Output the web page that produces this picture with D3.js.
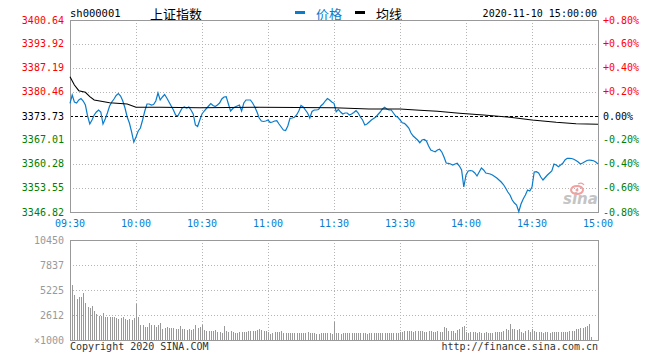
<!DOCTYPE html>
<html><head><meta charset="utf-8">
<script src="https://cdn.jsdelivr.net/npm/d3@7"></script>
<style>
html,body{margin:0;padding:0;background:#fff;}
svg{display:block;}
.mono{font-family:"DejaVu Sans Mono","Liberation Mono",monospace;font-size:10px;}
</style></head>
<body>
<svg id="c" width="660" height="360"></svg>
<script>
// ---- data ----
const symbol = "sh000001";
const indexName = "上证指数";
const dateTime = "2020-11-10 15:00:00";
const legendNames = ["价格", "均线"];
const timeLabels = ["09:30","10:00","10:30","11:00","11:30","13:30","14:00","14:30","15:00"];
const timeTickIdx = [0,30,60,90,120,150,180,210,240];
const priceTicks = [3400.64,3393.92,3387.19,3380.46,3373.73,3367.01,3360.28,3353.55,3346.82];
const pctTicks = ["+0.80%","+0.60%","+0.40%","+0.20%","0.00%","-0.20%","-0.40%","-0.60%","-0.80%"];
const prevClose = 3373.73;
const volTickLabels = ["10450","7837","5225","2612","×1000"];
const volTickValues = [10450,7837,5225,2612,0];
const price = [
3377.29,3379.62,3377.65,3377.37,3378.21,3378.64,3377.93,3376.81,3373.73,3371.49,
3372.61,3374.01,3374.85,3375.41,3374.85,3371.49,3372.89,3374.57,3376.53,3377.65,
3378.50,3379.48,3380.04,3379.34,3377.93,3375.97,3373.45,3371.77,3369.25,3366.44,
3367.84,3369.53,3370.37,3372.61,3375.13,3377.09,3377.09,3376.81,3376.95,3377.93,
3380.18,3378.21,3379.06,3379.76,3378.78,3377.65,3376.53,3375.41,3374.01,3373.73,
3374.85,3375.97,3376.25,3375.97,3376.25,3375.41,3374.29,3371.21,3370.79,3372.61,
3374.29,3375.13,3375.83,3376.53,3377.23,3376.67,3376.39,3376.81,3377.37,3378.50,
3379.06,3379.14,3377.09,3375.13,3375.83,3376.25,3376.53,3376.81,3375.13,3377.37,
3378.21,3378.21,3378.21,3377.37,3376.25,3374.85,3373.17,3372.33,3372.19,3372.33,
3372.61,3371.91,3372.05,3372.33,3372.41,3371.49,3370.65,3369.81,3369.67,3370.93,
3373.09,3373.17,3373.37,3374.01,3375.13,3376.67,3376.25,3375.41,3374.57,3373.17,
3374.99,3375.41,3375.41,3375.55,3376.53,3377.09,3377.93,3378.64,3378.21,3377.65,
3377.29,3374.94,3375.61,3374.85,3374.29,3374.57,3374.57,3374.01,3374.29,3374.71,
3375.22,3374.57,3373.45,3372.61,3371.21,3371.49,3372.05,3372.61,3373.03,3373.45,
3374.15,3374.85,3375.69,3376.17,3375.69,3375.41,3375.41,3374.57,3373.73,3373.37,
3372.61,3371.85,3371.68,3371.07,3370.37,3368.96,3368.12,3367.56,3367.00,3366.25,
3367.00,3367.14,3366.72,3365.32,3364.20,3363.92,3363.72,3364.20,3364.40,3363.64,
3362.24,3360.56,3360.47,3360.28,3360.00,3360.28,3360.47,3359.71,3358.59,3353.83,
3357.19,3358.31,3358.45,3358.31,3357.75,3356.91,3358.03,3359.15,3358.59,3357.75,
3357.61,3357.47,3357.19,3356.77,3356.35,3355.79,3355.23,3354.53,3353.55,3352.43,
3351.59,3350.18,3349.34,3348.78,3346.91,3349.06,3350.47,3351.59,3352.99,3352.71,
3353.83,3358.03,3358.12,3357.75,3356.63,3355.79,3356.49,3357.19,3357.75,3358.31,
3360.28,3360.00,3359.52,3360.00,3360.47,3361.40,3361.87,3361.87,3361.82,3361.59,
3361.26,3360.84,3360.28,3360.56,3360.92,3361.26,3361.40,3361.31,3361.20,3360.84,
3360.28];
const avgIdx = [0,2,4,7,9,11,18,26,30,41,59,86,120,136,150,159,167,177,188,200,210,221,230,240];
const avgPrice = [3384.75,3382.42,3380.82,3380.37,3379.14,3378.21,3377.46,3377.09,3376.17,3376.17,3376.06,3376.17,3376.06,3375.69,3375.69,3375.33,3375.05,3374.49,3374.01,3373.37,3372.61,3371.96,3371.57,3371.40];
const volume = [
10450,5748,4703,4285,4494,4494,4912,3867,3449,3380,
3553,3031,2752,2508,2508,2822,2369,2369,2369,2438,
2369,2264,2160,2264,2369,2160,2090,2160,2090,2299,
3762,2369,1568,1568,1393,1324,1811,1568,1568,1393,
1568,1742,1150,1219,1324,1254,1254,1254,1115,1115,
1463,1184,1115,1045,1115,1045,1184,1568,1254,1324,
1602,1045,975,940,975,940,1045,836,801,766,
1463,940,871,906,801,766,766,801,871,836,
871,906,940,906,975,1045,1115,1045,975,906,
871,627,766,801,836,871,975,766,766,766,
697,697,697,766,697,766,766,766,871,697,
697,697,627,627,697,697,697,766,697,627,
1916,697,697,627,697,697,697,697,766,697,
766,697,766,697,697,627,697,766,697,697,
697,766,697,697,697,697,697,766,766,697,
871,871,906,906,975,906,871,975,906,906,
906,871,871,906,906,871,871,975,871,871,
1324,1219,975,940,940,766,1045,1150,1324,1463,
871,766,836,801,871,766,871,766,697,801,
766,697,766,836,801,871,871,975,1150,1045,
1672,1150,1150,1045,1184,871,766,975,1045,871,
1115,975,871,836,871,766,836,801,766,871,
836,836,871,871,801,871,871,906,906,906,
1150,1184,1219,1254,1324,1463,1672,279,0,0,
0];

// ---- layout ----
const svg = d3.select("#c");
const L = 70, R = 598, PT = 20, PB = 212, VT = 240, VB = 340;
const gray = "#999", grid = "#b4b4b4";
const red = "#ff0000", green = "#008000", blue = "#0a7ccc";

const x = d3.scaleLinear().domain([0,240]).range([L,R]);
const y = d3.scaleLinear().domain([priceTicks[8], priceTicks[0]]).range([PB,PT]);
const yv = d3.scaleLinear().domain([0,10450]).range([VB,VT]);

// header
svg.append("text").attr("class","mono").attr("x",L).attr("y",13).attr("dominant-baseline","central")
  .attr("fill","#000").style("font-size","10.5px").text(symbol);
svg.append("text").attr("x",150).attr("y",13).attr("dominant-baseline","central")
  .style("font-family","'Noto Sans CJK SC',sans-serif").style("font-size","13px").attr("fill","#000").text(indexName);
svg.append("rect").attr("x",295).attr("y",11).attr("width",10).attr("height",3).attr("fill",blue);
svg.append("text").attr("x",316).attr("y",13).attr("dominant-baseline","central")
  .style("font-family","'Noto Sans CJK SC',sans-serif").style("font-size","13px").attr("fill",blue).text(legendNames[0]);
svg.append("rect").attr("x",355).attr("y",11).attr("width",10).attr("height",3).attr("fill","#000");
svg.append("text").attr("x",376).attr("y",13).attr("dominant-baseline","central")
  .style("font-family","'Noto Sans CJK SC',sans-serif").style("font-size","13px").attr("fill","#000").text(legendNames[1]);
svg.append("text").attr("class","mono").attr("x",597).attr("y",13).attr("text-anchor","end").attr("dominant-baseline","central")
  .attr("fill","#000").text(dateTime);

// price grid
const g = svg.append("g").attr("shape-rendering","crispEdges");
priceTicks.forEach((t,i)=>{
  if(i===0||i===8) return;
  const yy = Math.round(y(t))+0.5;
  g.append("line").attr("x1",L).attr("x2",R).attr("y1",yy).attr("y2",yy)
    .attr("stroke", t===prevClose? "#000": grid).attr("stroke-dasharray", t===prevClose? "3,2":"1,2");
});
timeTickIdx.forEach((t,i)=>{
  if(i===0||i===8) return;
  const xx = Math.round(x(t))+0.5;
  g.append("line").attr("x1",xx).attr("x2",xx).attr("y1",PT).attr("y2",PB).attr("stroke",grid).attr("stroke-dasharray","1,2");
  g.append("line").attr("x1",xx).attr("x2",xx).attr("y1",VT).attr("y2",VB).attr("stroke",grid).attr("stroke-dasharray","1,2");
});
volTickValues.forEach((v,i)=>{
  if(i===0||i===4) return;
  const yy = Math.round(yv(v))+0.5;
  g.append("line").attr("x1",L).attr("x2",R).attr("y1",yy).attr("y2",yy).attr("stroke",grid).attr("stroke-dasharray","1,2");
});

// watermark
const wm = svg.append("g");
wm.append("text").attr("x",563).attr("y",204).style("font-family","'DejaVu Sans',sans-serif").style("font-style","italic")
  .style("font-weight","bold").style("font-size","15px").attr("fill","#c4c4c4").text("sina");
wm.append("ellipse").attr("cx",577).attr("cy",190).attr("rx",6).attr("ry",4).attr("fill","none").attr("stroke","#f2a0a0").attr("stroke-width",2);
wm.append("circle").attr("cx",577).attr("cy",190).attr("r",1.5).attr("fill","#f2a0a0");
wm.append("path").attr("d","M578,184 q4,-2 6,1").attr("fill","none").attr("stroke","#f2a0a0").attr("stroke-width",1.2);

// borders
g.append("rect").attr("x",L+0.5).attr("y",PT+0.5).attr("width",R-L).attr("height",PB-PT).attr("fill","none").attr("stroke",gray);
g.append("rect").attr("x",L+0.5).attr("y",VT+0.5).attr("width",R-L).attr("height",VB-VT).attr("fill","none").attr("stroke",gray);

// volume bars
svg.append("g").attr("shape-rendering","crispEdges").selectAll("rect").data(volume).join("rect")
  .attr("x",(d,i)=>Math.round(x(i))).attr("width",1)
  .attr("y",d=>Math.round(yv(d))).attr("height",d=>VB-Math.round(yv(d)))
  .attr("fill","#999");

// price lines
const line = d3.line().x((d,i)=>x(i)).y(d=>y(d));
svg.append("path").datum(price).attr("d",line).attr("fill","none").attr("stroke",blue).attr("stroke-width",1.2);
const avgLine = d3.line().x(d=>x(d[0])).y(d=>y(d[1]));
svg.append("path").datum(avgIdx.map((t,i)=>[t,avgPrice[i]])).attr("d",avgLine).attr("fill","none").attr("stroke","#000").attr("stroke-width",1.1);

// left price axis labels
const colorFor = t => t>prevClose? red : (t<prevClose? green : "#000");
svg.append("g").selectAll("text").data(priceTicks).join("text").attr("class","mono")
  .attr("x",64).attr("y",d=>y(d)).attr("text-anchor","end").attr("dominant-baseline","central")
  .attr("fill",colorFor).text(d=>d.toFixed(2));
svg.append("g").selectAll("text").data(pctTicks).join("text").attr("class","mono")
  .attr("x",603).attr("y",(d,i)=>y(priceTicks[i])).attr("dominant-baseline","central")
  .attr("fill",(d,i)=>colorFor(priceTicks[i])).text(d=>d);

// time labels
svg.append("g").selectAll("text").data(timeLabels).join("text").attr("class","mono")
  .attr("x",(d,i)=>x(timeTickIdx[i])).attr("y",223).attr("text-anchor","middle").attr("dominant-baseline","central")
  .attr("fill",blue).text(d=>d);

// volume axis labels
svg.append("g").selectAll("text").data(volTickLabels).join("text").attr("class","mono")
  .attr("x",64).attr("y",(d,i)=>yv(volTickValues[i])).attr("text-anchor","end").attr("dominant-baseline","central")
  .attr("fill","#999").text(d=>d);

// footer
svg.append("text").attr("class","mono").attr("x",L).attr("y",346).attr("dominant-baseline","central").attr("fill","#333").text("Copyright 2020 SINA.COM");
svg.append("text").attr("class","mono").attr("x",598).attr("y",346).attr("text-anchor","end").attr("dominant-baseline","central").attr("fill","#333").text("http://finance.sina.com.cn");
</script>
</body></html>
